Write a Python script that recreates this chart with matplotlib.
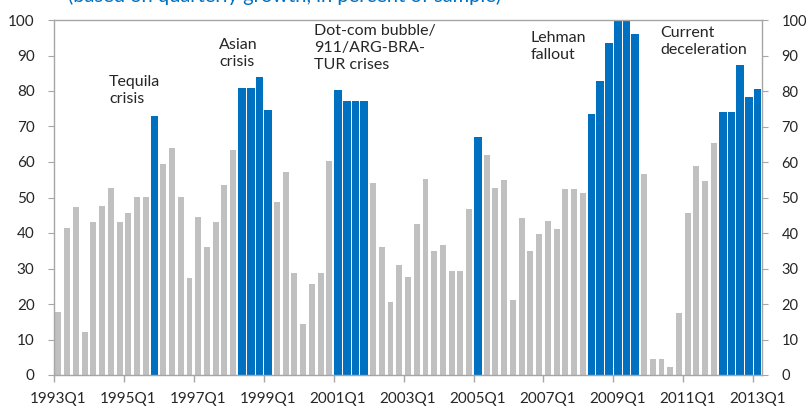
import numpy as np
import matplotlib
matplotlib.use("Agg")
import matplotlib.pyplot as plt

plt.rcParams['font.family'] = ['Lato', 'DejaVu Sans']

# quarters 1993Q1 .. 2013Q1
quarters = [f"{y}Q{q}" for y in range(1993, 2014) for q in range(1, 5)][:81]

share = [17.7, 41.3, 47.2, 12.0, 43.0, 47.6, 52.6, 43.0, 45.7, 50.2,
         50.2, 73.0, 59.3, 63.9, 50.2, 27.4, 44.5, 36.0, 43.0, 53.5,
         63.5, 80.8, 80.8, 84.0, 74.6, 48.7, 57.3, 28.6, 14.4, 25.6,
         28.6, 60.3, 80.3, 77.3, 77.3, 77.3, 54.0, 36.0, 20.7, 31.0,
         27.7, 42.6, 55.2, 35.0, 36.6, 29.3, 29.3, 46.7, 67.0, 62.0,
         52.7, 54.9, 21.0, 44.3, 35.0, 39.6, 43.4, 41.0, 52.3, 52.3,
         51.4, 73.5, 82.9, 93.6, 100.0, 100.0, 96.1, 56.6, 4.4, 4.4,
         2.3, 17.4, 45.7, 59.0, 54.6, 65.3, 74.0, 74.0, 87.2, 78.3,
         80.5]

# crisis quarters (highlighted in blue)
crisis = ["1995Q4", "1998Q2", "1998Q3", "1998Q4", "1999Q1",
          "2001Q1", "2001Q2", "2001Q3", "2001Q4", "2005Q1",
          "2008Q2", "2008Q3", "2008Q4", "2009Q1", "2009Q2", "2009Q3",
          "2012Q1", "2012Q2", "2012Q3", "2012Q4", "2013Q1"]

labels = ["Tequila\ncrisis", "Asian\ncrisis",
          "Dot-com bubble/\n911/ARG-BRA-\nTUR crises",
          "Lehman\nfallout", "Current\ndeceleration"]
label_x = [5.8, 18.4, 29.3, 54.0, 68.9]
label_y = [84.5, 95, 99, 97, 98.3]

grey = '#C0C0C0'
blue = '#0070C0'
edge = '#A6A6A6'

x = np.arange(len(quarters))
vals = np.array(share)
is_c = np.array([q in crisis for q in quarters])

fig = plt.figure(figsize=(8.06, 4.07), dpi=100)
ax = fig.add_axes([54/806, 1-375/407, (762-54)/806, (375-20)/407])

ax.bar(x[~is_c], vals[~is_c], width=0.68, color=grey, zorder=2)
ax.bar(x[is_c], vals[is_c], width=0.88, color=blue, zorder=2)

ax.set_xlim(-0.5, len(quarters) - 0.5)
ax.set_ylim(0, 100)
ax.set_yticks(range(0, 101, 10))

# ticks between categories, labels on categories
ax.set_xticks(np.arange(0, len(quarters), 8) - 0.5, minor=True)
ax.set_xticks(np.arange(0, len(quarters), 8))
ax.set_xticklabels([quarters[i] for i in range(0, len(quarters), 8)])
ax.tick_params(axis='x', which='major', length=0, pad=12, labelsize=11, colors='#262626')
ax.tick_params(axis='x', which='minor', length=5, color=edge, width=1)
ax.tick_params(axis='y', length=4, color=edge, pad=10, labelsize=11, labelcolor='#262626')

for s in ax.spines.values():
    s.set_color(edge)
    s.set_linewidth(1)

ax2 = ax.twinx()
ax2.set_ylim(0, 100)
ax2.set_yticks(range(0, 101, 10))
ax2.tick_params(axis='y', length=4, color=edge, pad=10, labelsize=10.5, labelcolor='#262626')
for s in ax2.spines.values():
    s.set_visible(False)

for txt, lx, ly in zip(labels, label_x, label_y):
    ax.text(lx, ly, txt, fontsize=11.5, color='#262626',
            ha='left', va='top', linespacing=1.3, zorder=3)

fig.text(285/806, 1-2/407, "(based on quarterly growth, in percent of sample)",
         color=blue, fontsize=14.5, ha='center', va='baseline')

fig.savefig("out.png", dpi=100)
